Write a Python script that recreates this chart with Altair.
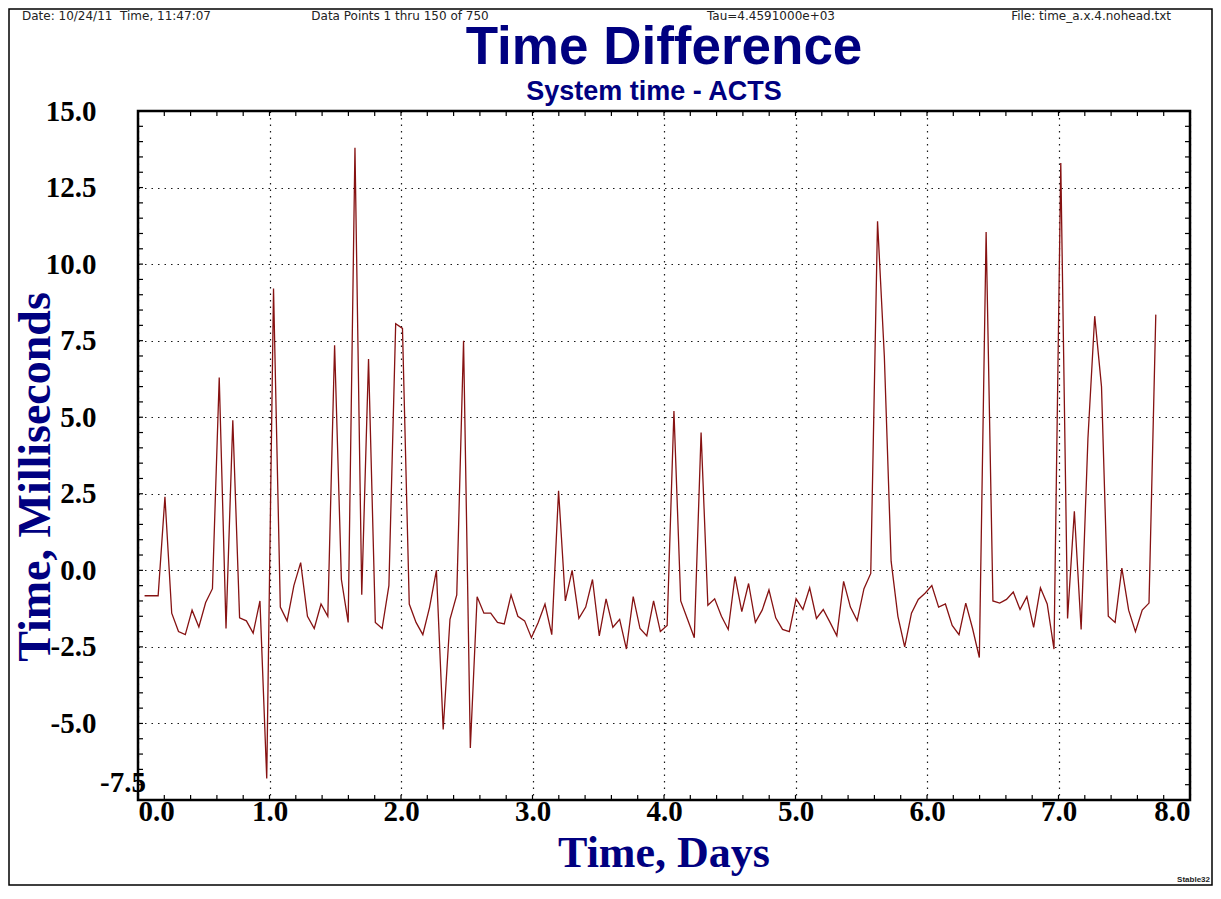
import altair as alt
import pandas as pd

# ---------------- data ----------------
TIME_DIFF_MS = [
    -0.83, -0.83, -0.83, 2.4, -1.4, -2.0, -2.1, -1.3, -1.85, -1.05,
    -0.6, 6.3, -1.9, 4.9, -1.55, -1.65, -2.05, -1.0, -6.8, 9.2,
    -1.2, -1.65, -0.5, 0.25, -1.5, -1.9, -1.1, -1.5, 7.35, -0.3,
    -1.7, 13.8, -0.8, 6.9, -1.7, -1.9, -0.5, 8.05, 7.9, -1.1,
    -1.7, -2.1, -1.2, 0.0, -5.2, -1.6, -0.8, 7.5, -5.8, -0.86,
    -1.4, -1.4, -1.7, -1.75, -0.8, -1.5, -1.65, -2.2, -1.7, -1.1,
    -2.1, 2.6, -1.0, 0.0, -1.57, -1.2, -0.3, -2.14, -0.93, -1.86,
    -1.6, -2.57, -0.86, -1.9, -2.14, -1.0, -2.0, -1.8, 5.2, -1.0,
    -1.6, -2.2, 4.5, -1.14, -0.93, -1.5, -1.93, -0.2, -1.35, -0.43,
    -1.7, -1.3, -0.64, -1.55, -1.93, -2.0, -0.93, -1.28, -0.57, -1.57,
    -1.28, -1.7, -2.14, -0.36, -1.2, -1.64, -0.6, -0.1, 11.4, 7.0,
    0.3, -1.5, -2.5, -1.4, -0.95, -0.75, -0.5, -1.2, -1.1, -1.8,
    -2.1, -1.07, -1.9, -2.85, 11.05, -1.0, -1.07, -0.95, -0.71, -1.28,
    -0.86, -1.86, -0.57, -1.1, -2.57, 13.3, -1.57, 1.93, -1.93, 4.3,
    8.3, 6.0, -1.5, -1.7, 0.07, -1.3, -2.0, -1.3, -1.07, 8.35,
]
TAU_SECONDS = 4459.1          # sampling interval shown in the header
FIRST_DAY = 0.05
DAYS = [FIRST_DAY + i * TAU_SECONDS / 86400.0 for i in range(len(TIME_DIFF_MS))]

X_MAJOR = [0, 1, 2, 3, 4, 5, 6, 7, 8]
Y_MAJOR = [-7.5, -5.0, -2.5, 0.0, 2.5, 5.0, 7.5, 10.0, 12.5, 15.0]
X_MINOR = [round(0.2 * k, 1) for k in range(41)]
Y_MINOR = [round(-7.5 + 0.5 * k, 1) for k in range(46)]

TITLE = "Time Difference"
SUBTITLE = "System time - ACTS"
X_TITLE = "Time, Days"
Y_TITLE = "Time, Milliseconds"
HDR_DATE = "Date: 10/24/11\u00a0 Time, 11:47:07"
HDR_POINTS = "Data Points 1 thru 150 of 750"
HDR_TAU = "Tau=4.4591000e+03"
HDR_FILE = "File: time_a.x.4.nohead.txt"
FOOTER = "Stable32"

# ---------------- layout ----------------
W, H = 1052, 689
PAD = {"left": 130, "top": 103, "right": 23, "bottom": 86}
NAVY = "#000080"
SERIF = "Liberation Serif"
SANS = "Liberation Sans"

xs = alt.Scale(domain=[0, 8], nice=False, zero=False)
ys = alt.Scale(domain=[-7.5, 15], nice=False, zero=False)

df = pd.DataFrame({"t": DAYS, "v": TIME_DIFF_MS})

x_axis = alt.Axis(
    values=X_MAJOR, title=None, grid=True, gridDash=[1.5, 5], gridColor="black",
    gridWidth=1.2, gridOpacity=0.9, ticks=False, domain=False,
    labelExpr="format(datum.value, '.1f')", labelFont=SERIF, labelFontWeight="bold",
    labelFontSize=29, labelColor="black", labelFlush=True,
    labelBaseline="alphabetic", labelPadding=20)
y_axis = alt.Axis(
    values=Y_MAJOR, title=None, grid=True, gridDash=[1.5, 5], gridColor="black",
    gridWidth=1.2, gridOpacity=0.9, ticks=False, domain=False,
    labelExpr="datum.value == -7.5 ? '' : (datum.value < 0 ? '-' + format(-datum.value, '.1f') : format(datum.value, '.1f'))",
    labelFont=SERIF, labelFontWeight="bold", labelFontSize=29, labelColor="black",
    labelPadding=42)

line = alt.Chart(df).mark_line(color="#861212", strokeWidth=1.3, clip=True).encode(
    x=alt.X("t:Q", scale=xs, axis=x_axis),
    y=alt.Y("v:Q", scale=ys, axis=y_axis),
)

TL = 5
xt = pd.DataFrame({"t": X_MINOR})
yt = pd.DataFrame({"v": Y_MINOR})
tick_top = alt.Chart(xt).mark_rule(color="black", strokeWidth=1.2).encode(
    x=alt.X("t:Q", scale=xs, axis=x_axis), y=alt.value(0), y2=alt.value(TL))
tick_bot = alt.Chart(xt).mark_rule(color="black", strokeWidth=1.2).encode(
    x=alt.X("t:Q", scale=xs, axis=x_axis), y=alt.value(H), y2=alt.value(H - TL))
tick_left = alt.Chart(yt).mark_rule(color="black", strokeWidth=1.2).encode(
    y=alt.Y("v:Q", scale=ys, axis=y_axis), x=alt.value(0), x2=alt.value(TL))
tick_right = alt.Chart(yt).mark_rule(color="black", strokeWidth=1.2).encode(
    y=alt.Y("v:Q", scale=ys, axis=y_axis), x=alt.value(W), x2=alt.value(W - TL))


def text(s, x, y, **kw):
    return alt.Chart(pd.DataFrame({"s": [s]})).mark_text(**kw).encode(
        text="s:N", x=alt.value(x), y=alt.value(y))


HDR_Y = -91
texts = [
    text(TITLE, W / 2, -47, font=SANS, fontWeight="bold", fontSize=53, color=NAVY,
         align="center", baseline="alphabetic"),
    text(SUBTITLE, W / 2 - 10, -11, font=SANS, fontWeight="bold", fontSize=27, color=NAVY,
         align="center", baseline="alphabetic"),
    text(X_TITLE, W / 2, 756, font=SERIF, fontWeight="bold", fontSize=44, color=NAVY,
         align="center", baseline="alphabetic"),
    text(Y_TITLE, -88, 366, font=SERIF, fontWeight="bold", fontSize=46, color=NAVY,
         align="center", baseline="alphabetic", angle=270),
    text("-7.5", 8, H - 8, font=SERIF, fontWeight="bold", fontSize=29, color="black",
         align="right", baseline="alphabetic"),
    text(HDR_DATE, -116, HDR_Y, font="DejaVu Sans", fontSize=12, color="#222",
         align="left", baseline="alphabetic"),
    text(HDR_POINTS, 262, HDR_Y, font="DejaVu Sans", fontSize=12, color="#222",
         align="center", baseline="alphabetic"),
    text(HDR_TAU, 633, HDR_Y, font="DejaVu Sans", fontSize=12, color="#222",
         align="center", baseline="alphabetic"),
    text(HDR_FILE, 1033, HDR_Y, font="DejaVu Sans", fontSize=12, color="#222",
         align="right", baseline="alphabetic"),
    text(FOOTER, W + 20, H + 82, font=SANS, fontWeight="bold", fontSize=8, color="#222",
         align="right", baseline="alphabetic"),
]

border = alt.Chart(pd.DataFrame({"a": [0]})).mark_rect(
    filled=False, stroke="black", strokeWidth=1.5).encode(
    x=alt.value(-PAD["left"] + 1), x2=alt.value(W + PAD["right"] - 1),
    y=alt.value(-PAD["top"] + 1), y2=alt.value(H + PAD["bottom"] - 1))

chart = alt.layer(line, tick_top, tick_bot, tick_left, tick_right, *texts, border).properties(
    width=W, height=H,
    autosize=alt.AutoSizeParams(type="none"),
    padding=PAD,
    background="white",
).configure_view(stroke="black", strokeWidth=2.5)

chart.save("out.html", embed_options={"renderer": "svg", "actions": False})
